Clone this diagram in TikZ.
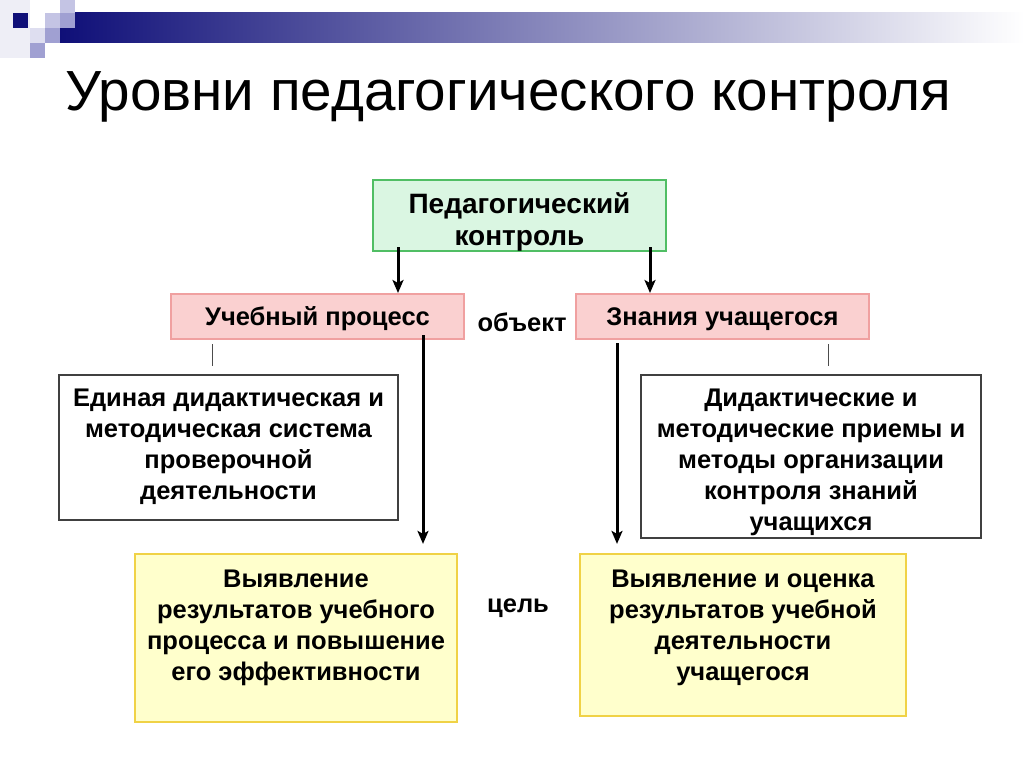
\documentclass[tikz,border=0pt]{standalone}
\usepackage{fontspec}
\setmainfont{Liberation Sans}
\usetikzlibrary{arrows.meta,calc}
\definecolor{boxgreen}{RGB}{80,190,100}
\definecolor{fillgreen}{RGB}{218,246,226}
\definecolor{pinkdraw}{RGB}{240,160,160}
\definecolor{pinkfill}{RGB}{250,208,208}
\definecolor{yellowdraw}{RGB}{240,210,70}
\definecolor{yellowfill}{RGB}{255,255,204}
\definecolor{navy}{RGB}{15,15,120}
\definecolor{sqpale}{RGB}{222,222,240}
\definecolor{sqlight}{RGB}{196,196,228}
\definecolor{sqmid}{RGB}{160,160,210}
\definecolor{faint}{RGB}{238,238,246}
\begin{document}
\begin{tikzpicture}[x=1pt,y=-1pt,
  txt/.style={font=\bfseries\fontsize{25.5}{31}\selectfont, align=center, inner sep=0pt},
  bigtxt/.style={font=\bfseries\fontsize{28}{32}\selectfont, align=center, inner sep=0pt},
  gbox/.style={draw=boxgreen, fill=fillgreen, line width=2.2pt, minimum width=293pt, minimum height=71pt, inner sep=0pt},
  pbox/.style={draw=pinkdraw, fill=pinkfill, line width=2pt, minimum width=293pt, minimum height=45pt, inner sep=0pt},
  wbox/.style={draw=black!75, fill=white, line width=1.3pt, inner sep=0pt},
  ybox/.style={draw=yellowdraw, fill=yellowfill, line width=2.2pt, inner sep=0pt},
  arr/.style={line width=3pt, -{Stealth[length=13pt,width=11pt,inset=3pt]}},
  tickline/.style={line width=0.9pt, draw=black!70},
]
\useasboundingbox (0,0) rectangle (1024,767);
\fill[white] (0,0) rectangle (1024,767);
% decoration
\fill[faint] (0,0) rectangle (30,58);
\shade[left color=navy, right color=white] (60,13) rectangle (1024,43);
\fill[navy] (13,13) rectangle (28,28);
\fill[sqlight] (60,0) rectangle (75,13);
\fill[sqlight] (45,13) rectangle (60,28);
\fill[sqmid] (60,13) rectangle (75,28);
\fill[sqpale] (30,28) rectangle (45,43);
\fill[sqmid] (45,28) rectangle (60,43);
\fill[sqmid] (30,43) rectangle (45,58);
% title
\node[anchor=base west, inner sep=0pt, font=\fontsize{56.6}{60}\selectfont] (title) at (65,111) {Уровни педагогического контроля};
% boxes
\node[gbox] (g) at (519.5,215.5) {};
\node[bigtxt] (gt) at (519.5,222) {Педагогический\\контроль};
\node[pbox] (pL) at (317.5,316.5) {};
\node[txt] (pLt) at (317.5,319) {Учебный процесс};
\node[pbox] (pR) at (722.5,316.5) {};
\node[txt] (pRt) at (722.5,319) {Знания учащегося};
\node[txt] (obj) at (522,322) {объект};
\node[wbox, minimum width=339pt, minimum height=145pt] (wL) at (228.5,447.5) {};
\node[txt] (wLt) at (228.5,447) {Единая дидактическая и\\методическая система\\проверочной\\деятельности};
\node[wbox, minimum width=340pt, minimum height=163pt] (wR) at (811,456.5) {};
\node[txt] (wRt) at (811,462) {Дидактические и\\методические приемы и\\методы организации\\контроля знаний\\учащихся};
\node[ybox, minimum width=322pt, minimum height=168pt] (yL) at (296,638) {};
\node[txt] (yLt) at (296,627.5) {Выявление\\результатов учебного\\процесса и повышение\\его эффективности};
\node[ybox, minimum width=326pt, minimum height=162pt] (yR) at (743,635) {};
\node[txt] (yRt) at (743,627.5) {Выявление и оценка\\результатов учебной\\деятельности\\учащегося};
\node[txt] (goal) at (518,608) {цель};
% connectors
\draw[arr, shorten <=-5pt] ([xshift=-121.5pt]g.south) -- ([xshift=-121.5pt]g.south |- pL.north);
\draw[arr, shorten <=-5pt] ([xshift=130.5pt]g.south) -- ([xshift=130.5pt]g.south |- pR.north);
\draw[arr, shorten <=-5pt, shorten >=9pt] ([xshift=105.5pt]pL.south) -- ([xshift=105.5pt]pL.south |- yL.north);
\draw[arr, shorten <=3pt, shorten >=9pt] ([xshift=-105.5pt]pR.south) -- ([xshift=-105.5pt]pR.south |- yR.north);
\draw[tickline, shorten <=4pt, shorten >=8pt] ([xshift=-105.5pt]pL.south) -- ([xshift=-105.5pt]pL.south |- wL.north);
\draw[tickline, shorten <=4pt, shorten >=8pt] ([xshift=105.5pt]pR.south) -- ([xshift=105.5pt]pR.south |- wR.north);
\end{tikzpicture}
\end{document}
